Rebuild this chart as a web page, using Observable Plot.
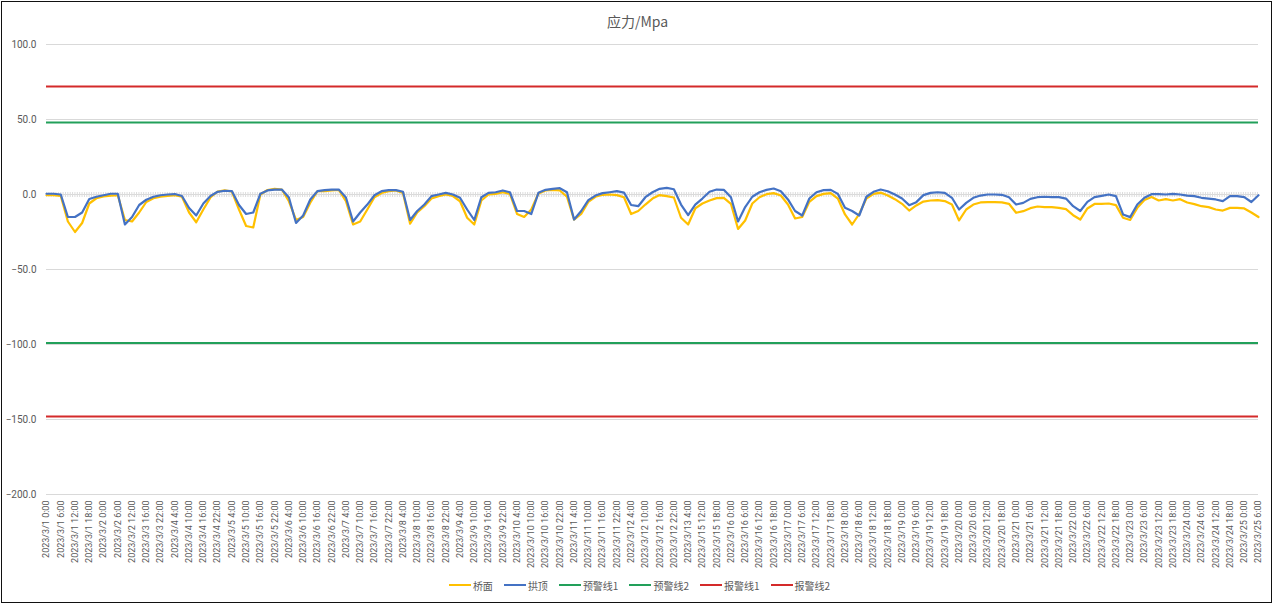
<!DOCTYPE html>
<html>
<head>
<meta charset="utf-8">
<script src="https://cdn.jsdelivr.net/npm/d3@7"></script>
<script src="https://cdn.jsdelivr.net/npm/@observablehq/plot@0.6"></script>
<style>
  body { margin: 0; background: #fff; }
  #chart { position: relative; width: 1275px; height: 604px; overflow: hidden; }
  #frame { position: absolute; left: 1px; top: 1px; width: 1271px; height: 602px; border: 1.5px solid #111; box-sizing: border-box; pointer-events: none; }
  #title { height: 36px; box-sizing: border-box; padding-top: 12px; text-align: center; font: 14px "Noto Sans CJK SC", sans-serif; line-height: 18px; color: #595959; }
  #plot svg { display: block; }
  #legend { height: 28px; display: flex; justify-content: center; align-items: center; gap: 11px; font: 10px "Noto Sans CJK SC", sans-serif; color: #595959; padding-left: 4px; }
  #legend .item { display: flex; align-items: center; gap: 2px; }
  #legend .sw { width: 22px; height: 0; border-top: 2.5px solid; }
</style>
</head>
<body>
<div id="chart">
  <div id="title">应力/Mpa</div>
  <div id="plot"></div>
  <div id="legend"></div>
  <div id="frame"></div>
</div>
<script>
// x tick labels (one every 6 hours, shown under every 2nd sample)
const tickLabels = [
  "2023/3/1 0:00", "2023/3/1 6:00", "2023/3/1 12:00", "2023/3/1 18:00",
  "2023/3/2 0:00", "2023/3/2 6:00", "2023/3/2 12:00",
  "2023/3/3 16:00", "2023/3/3 22:00",
  "2023/3/4 4:00", "2023/3/4 10:00", "2023/3/4 16:00", "2023/3/4 22:00",
  "2023/3/5 4:00", "2023/3/5 10:00", "2023/3/5 16:00", "2023/3/5 22:00",
  "2023/3/6 4:00", "2023/3/6 10:00", "2023/3/6 16:00", "2023/3/6 22:00",
  "2023/3/7 4:00", "2023/3/7 10:00", "2023/3/7 16:00", "2023/3/7 22:00",
  "2023/3/8 4:00", "2023/3/8 10:00", "2023/3/8 16:00", "2023/3/8 22:00",
  "2023/3/9 4:00", "2023/3/9 10:00", "2023/3/9 16:00", "2023/3/9 22:00",
  "2023/3/10 4:00", "2023/3/10 10:00", "2023/3/10 16:00", "2023/3/10 22:00",
  "2023/3/11 4:00", "2023/3/11 10:00", "2023/3/11 16:00", "2023/3/11 22:00",
  "2023/3/12 4:00", "2023/3/12 10:00", "2023/3/12 16:00", "2023/3/12 22:00",
  "2023/3/13 4:00",
  "2023/3/15 12:00", "2023/3/15 18:00",
  "2023/3/16 0:00", "2023/3/16 6:00", "2023/3/16 12:00", "2023/3/16 18:00",
  "2023/3/17 0:00", "2023/3/17 6:00", "2023/3/17 12:00", "2023/3/17 18:00",
  "2023/3/18 0:00", "2023/3/18 6:00", "2023/3/18 12:00", "2023/3/18 18:00",
  "2023/3/19 0:00", "2023/3/19 6:00", "2023/3/19 12:00", "2023/3/19 18:00",
  "2023/3/20 0:00", "2023/3/20 6:00", "2023/3/20 12:00", "2023/3/20 18:00",
  "2023/3/21 0:00", "2023/3/21 6:00", "2023/3/21 12:00", "2023/3/21 18:00",
  "2023/3/22 0:00", "2023/3/22 6:00", "2023/3/22 12:00", "2023/3/22 18:00",
  "2023/3/23 0:00", "2023/3/23 6:00", "2023/3/23 12:00", "2023/3/23 18:00",
  "2023/3/24 0:00", "2023/3/24 6:00", "2023/3/24 12:00", "2023/3/24 18:00",
  "2023/3/25 0:00", "2023/3/25 6:00"
];

// 桥面 (deck) stress, one value every 3 hours
const qiaomian = [
  -0.5, -0.5, -1, -18, -25, -19, -6, -2.5, -1.3, -0.8,
  -0.5, -17, -18, -12, -5, -2.5, -1.5, -1, -0.5, -1.5,
  -12, -18.5, -10, -2, 2, 2.7, 2, -10, -21, -22,
  0, 3, 3.8, 3.3, -4.5, -17, -15, -5.5, 2.2, 2.2,
  2.7, 3, -4.5, -20, -18, -10, -1.8, 1, 2.2, 2.7,
  1, -19.5, -12, -7.8, -2.7, -1.1, 0, -1, -4.5, -15.5,
  -20, -4, 0, 0.4, 1.5, 0.4, -13, -15, -10, 0.7,
  2.7, 3.1, 2.7, -1.5, -16.7, -13, -4.9, -1.5, -0.2, 0,
  -0.4, -1.8, -13, -11, -6.7, -2.7, -0.4, -1.1, -2, -15.5,
  -20, -9.3, -6, -4, -2.4, -2.2, -6.2, -23, -17.3, -6,
  -1.8, 0.2, 0.9, -0.7, -6.7, -16, -15, -4.9, -1.1, 0.4,
  0.9, -2.7, -13.3, -20, -13, -2.7, 0.4, 1.3, -0.7, -3.1,
  -6.2, -10.7, -7.3, -4.7, -4, -3.8, -4.4, -6.7, -17.3, -10,
  -6.7, -5.3, -5.1, -5.1, -5.3, -6.2, -12.2, -11.1, -9.1, -8,
  -8.4, -8.4, -8.9, -9.8, -13.8, -16.7, -9.3, -6.3, -6.2, -6,
  -7.1, -15.5, -17, -8.9, -3.6, -1.6, -4, -3.1, -4, -3.1,
  -5.3, -6.4, -7.8, -8.4, -10, -10.7, -8.9, -8.9, -9.3, -12,
  -15
];

// 拱顶 (crown) stress, one value every 3 hours
const gongding = [
  0.5, 0.5, 0, -15, -15, -12, -3, -1.5, -0.5, 0.5,
  0.5, -20, -15, -7, -3.5, -1.5, -0.5, 0, 0.3, -1,
  -9, -14, -6, -1, 1.8, 2.5, 2.3, -7, -13, -12,
  0.5, 2.7, 3.3, 3.3, -2, -19, -14, -3.3, 2.2, 2.9,
  3.3, 3.3, -2, -18, -12, -6.7, -0.5, 2.2, 2.9, 2.9,
  1.8, -17, -11, -6.7, -1.1, 0, 1.1, 0, -2.2, -10,
  -17, -1.8, 1.1, 1.5, 2.7, 1.5, -11, -11, -13, 1.1,
  3.1, 3.8, 4.2, 1.5, -16.7, -11, -3.8, -0.7, 0.9, 1.5,
  2.2, 1.3, -7, -7.8, -1.8, 1.5, 3.8, 4.4, 3.5, -6.7,
  -13.8, -6.7, -2.7, 1.8, 3.3, 3.1, -1.8, -18, -8.4, -1.5,
  1.5, 3.1, 4, 2.2, -3.3, -11, -14, -2.7, 1.5, 2.9,
  3.1, 0.4, -8.9, -11, -14, -1.5, 1.8, 3.3, 2.2, 0,
  -2.7, -7.1, -5.1, -0.4, 1.1, 1.5, 1.1, -2.2, -10, -5.6,
  -2.2, -0.7, 0, 0, -0.2, -1.8, -6.7, -5.6, -2.9, -1.8,
  -1.5, -1.8, -1.8, -2.7, -7.8, -11, -4.9, -1.8, -0.9, 0,
  -1.1, -13.3, -15.1, -6.7, -2.2, 0.2, 0.2, 0, 0.4, 0,
  -0.7, -1.1, -2.2, -2.7, -3.3, -4.4, -1.1, -1.1, -1.8, -5,
  -0.5
];

// warning (预警) and alarm (报警) thresholds
const yujing1 = 48;
const yujing2 = -99;
const baojing1 = 72;
const baojing2 = -148;

const yTicks = [-200, -150, -100, -50, 0, 50, 100];

const series = [
  { name: "桥面", color: "#FFC000" },
  { name: "拱顶", color: "#4472C4" },
  { name: "预警线1", color: "#22A05A" },
  { name: "预警线2", color: "#22A05A" },
  { name: "报警线1", color: "#D42A2A" },
  { name: "报警线2", color: "#D42A2A" }
];

function renderChart() {
  const deck = qiaomian.map((v, i) => ({ i, v }));
  const crown = gongding.map((v, i) => ({ i, v }));
  const tickIdx = tickLabels.map((d, j) => j * 2);

  const plot = Plot.plot({
    width: 1275,
    height: 535,
    marginTop: 8,
    marginBottom: 77,
    marginLeft: 46,
    marginRight: 17,
    style: { fontFamily: "Roboto, sans-serif", fontSize: "9px", color: "#595959", background: "transparent" },
    x: { domain: [0, qiaomian.length - 1], label: null },
    y: { domain: [-200, 100], label: null },
    marks: [
      Plot.gridY(yTicks, { stroke: "#d9d9d9", strokeOpacity: 1 }),
      // category axis line at 0 with its dense tick marks
      Plot.ruleY([0], { stroke: "#d9d9d9", strokeWidth: 1 }),
      Plot.ruleY([0], { stroke: "#dcdcdc", strokeWidth: 5, strokeDasharray: "1,1.37" }),
      Plot.axisY(yTicks, { tickFormat: d3.format(".1f"), tickSize: 0, tickPadding: 10, label: null, fontSize: 10 }),
      Plot.axisX(tickIdx, {
        tickFormat: i => tickLabels[i / 2],
        tickRotate: -90,
        tickSize: 0,
        tickPadding: 6,
        label: null
      }),
      Plot.ruleY([baojing1], { stroke: series[4].color, strokeWidth: 2 }),
      Plot.ruleY([yujing1], { stroke: series[2].color, strokeWidth: 2 }),
      Plot.ruleY([yujing2], { stroke: series[3].color, strokeWidth: 2 }),
      Plot.ruleY([baojing2], { stroke: series[5].color, strokeWidth: 2 }),
      Plot.line(deck, { x: "i", y: "v", stroke: series[0].color, strokeWidth: 2.2, strokeLinejoin: "round" }),
      Plot.line(crown, { x: "i", y: "v", stroke: series[1].color, strokeWidth: 2.2, strokeLinejoin: "round" })
    ]
  });
  document.getElementById("plot").appendChild(plot);

  const legend = document.getElementById("legend");
  series.forEach(s => {
    const item = document.createElement("div");
    item.className = "item";
    const sw = document.createElement("span");
    sw.className = "sw";
    sw.style.borderTopColor = s.color;
    const label = document.createElement("span");
    label.textContent = s.name;
    item.appendChild(sw);
    item.appendChild(label);
    legend.appendChild(item);
  });
}

renderChart();
</script>
</body>
</html>
